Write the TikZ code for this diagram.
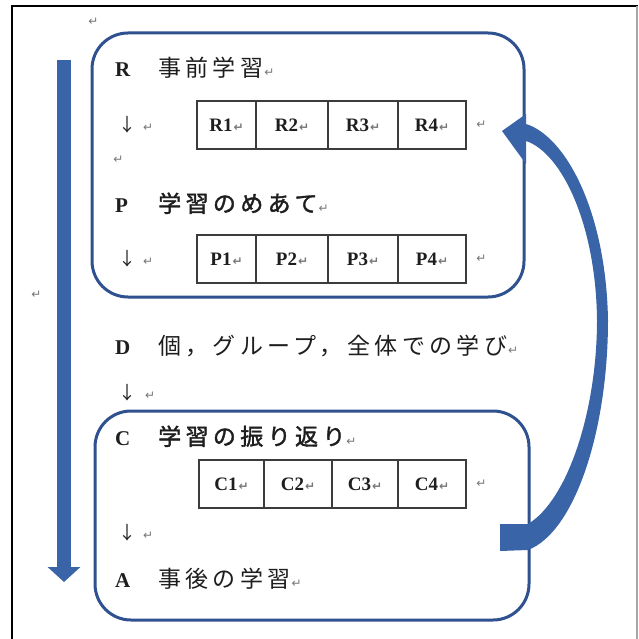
\documentclass[tikz,border=0pt]{standalone}
\usepackage{fontspec}
\setmainfont{Liberation Serif}
\newfontfamily\cjk[LetterSpace=19]{Noto Sans CJK JP}
\newfontfamily\cjkb[LetterSpace=19,FakeBold=1.6]{Noto Sans CJK JP}
\newfontfamily\cjkarrow{Noto Sans CJK JP}
\newfontfamily\symf{DejaVu Sans}
\usetikzlibrary{arrows.meta}
\definecolor{boxblue}{HTML}{2F5190}
\definecolor{arrowblue}{HTML}{3A64A8}
\definecolor{txt}{HTML}{1E1E1E}
\definecolor{cellgray}{HTML}{3C3C3C}
\definecolor{pmgray}{HTML}{777777}
\newcommand{\parmark}{{\symf\fontsize{12}{12}\selectfont\color{pmgray}\kern1pt ↵}}
\tikzset{
  roundbox/.style={draw=boxblue, line width=3pt, rounded corners=36pt, inner sep=0pt},
  cellbox/.style={draw=cellgray, line width=1.4pt, minimum height=48pt, inner sep=0pt,
    text=txt, font=\fontsize{19}{19}\selectfont\bfseries},
  letter/.style={anchor=base west, inner sep=0pt, text=txt, font=\fontsize{21}{21}\selectfont\bfseries},
  jp/.style={anchor=base west, inner sep=0pt, text=txt, font=\fontsize{23}{23}\selectfont\cjk},
  jpb/.style={anchor=base west, inner sep=0pt, text=txt, font=\fontsize{23}{23}\selectfont\cjkb},
  downarr/.style={anchor=base west, inner sep=0pt, text=txt, font=\fontsize{18}{18}\selectfont\cjkarrow},
  pmark/.style={inner sep=0pt, anchor=center},
}
\begin{document}
\begin{tikzpicture}[x=1pt,y=-1pt]
\useasboundingbox (0,0) rectangle (639,639);
\fill[white] (0,0) rectangle (639,639);
% outer frame
\draw[black, line width=2pt] (12,645) -- (12,6) -- (638,6);
\draw[gray!70, line width=1.5pt] (637,6) -- (637,645);

% rounded boxes
\node[roundbox, minimum width=432pt, minimum height=264pt] (topbox) at (308,165) {};
\node[roundbox, minimum width=434pt, minimum height=209pt] (botbox) at (312,515.5) {};

% left long arrow
\coordinate (ltop) at (64,60);
\coordinate (lbot) at (64,582);
\draw[arrowblue, line width=14pt, -{Triangle[length=15pt,width=32pt]}] (ltop) -- (lbot);

% curved feedback arrow from bottom box to top box
\coordinate (ctail) at (500,537);
\coordinate (chead) at (502,131);
\fill[arrowblue] (chead) -- (526,114) -- (526,124)
  .. controls (565,136) and (606,210) .. (608,320)
  .. controls (608,430) and (575,532) .. (528,550)
  -- (500,551) -- (500,524) -- (528,524)
  .. controls (568,500) and (597,410) .. (597,320)
  .. controls (596,225) and (562,153) .. (526,141)
  -- (526,164) -- cycle;

% stray paragraph marks
\node[pmark] (pm0) at (93,22) {\parmark};
\node[pmark] (pm1) at (36,295) {\parmark};
\node[pmark] (pm2) at (118,160) {\parmark};

% R row
\node[letter] (rl) at (115,77) {R};
\node[jp] (rt) at (158,77) {事前学習\parmark};
\node[downarr] (ra) at (118,132) {↓\kern6pt\parmark};
\node[cellbox, minimum width=59pt] (r1) at (226.5,125) {R1\parmark};
\node[cellbox, minimum width=72pt] (r2) at (292,125) {R2\parmark};
\node[cellbox, minimum width=70pt] (r3) at (363,125) {R3\parmark};
\node[cellbox, minimum width=68pt] (r4) at (432,125) {R4\parmark};
\node[pmark] (rpm) at (481,125) {\parmark};

% P row
\node[letter] (pl) at (115,212) {P};
\node[jpb] (ptx) at (158,212) {学習のめあて\parmark};
\node[downarr] (pa) at (118,265) {↓\kern6pt\parmark};
\node[cellbox, minimum width=59pt] (p1) at (226.5,259) {P1\parmark};
\node[cellbox, minimum width=72pt] (p2) at (292,259) {P2\parmark};
\node[cellbox, minimum width=70pt] (p3) at (363,259) {P3\parmark};
\node[cellbox, minimum width=68pt] (p4) at (432,259) {P4\parmark};
\node[pmark] (ppm) at (481,259) {\parmark};

% D row
\node[letter] (dl) at (115,354) {D};
\node[jp] (dtx) at (158,354) {個，グループ，全体での学び\parmark};
\node[downarr] (da) at (118,399) {↓\kern8pt\parmark};

% C row
\node[letter] (cl) at (115,445) {C};
\node[jpb] (ctx) at (158,445) {学習の振り返り\parmark};
\node[cellbox, minimum width=65pt] (c1) at (231.5,484) {C1\parmark};
\node[cellbox, minimum width=68pt] (c2) at (298,484) {C2\parmark};
\node[cellbox, minimum width=66pt] (c3) at (365,484) {C3\parmark};
\node[cellbox, minimum width=68pt] (c4) at (432,484) {C4\parmark};
\node[pmark] (cpm) at (481,484) {\parmark};
\node[downarr] (ca) at (118,539) {↓\kern6pt\parmark};

% A row
\node[letter] (al) at (115,587) {A};
\node[jp] (atx) at (158,587) {事後の学習\parmark};
\end{tikzpicture}
\end{document}
